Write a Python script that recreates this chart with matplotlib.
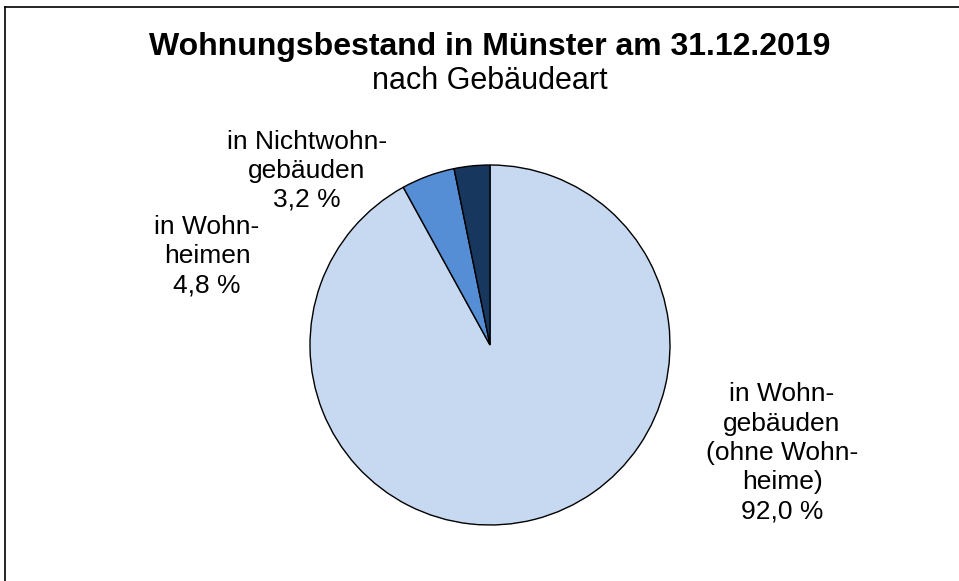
import matplotlib
matplotlib.use("Agg")
import matplotlib.pyplot as plt
from matplotlib.lines import Line2D

plt.rcParams['font.family'] = ['Liberation Sans', 'DejaVu Sans']

title = "Wohnungsbestand in Münster am 31.12.2019"
subtitle = "nach Gebäudeart"
categories = ["in Wohn-\ngebäuden\n(ohne Wohn-\nheime)", "in Wohn-\nheimen", "in Nichtwohn-\ngebäuden"]
values = [92.0, 4.8, 3.2]
colors = ["#C6D9F1", "#558ED5", "#17375E"]

W, H = 959, 581
fig = plt.figure(figsize=(W / 100, H / 100), dpi=100)
fig.patch.set_facecolor("white")

# pie axes: center (490,345) px, radius 180 px
cx, cy, r = 490, 345, 180
ax = fig.add_axes([(cx - r) / W, (H - cy - r) / H, 2 * r / W, 2 * r / H])
ax.pie(values, colors=colors, startangle=90, counterclock=False, radius=1,
       wedgeprops=dict(edgecolor="black", linewidth=1.0))
ax.set_xlim(-1, 1)
ax.set_ylim(-1, 1)
ax.set_aspect("equal")
ax.axis("off")

def fmt(v):
    return f"{v:.1f}".replace(".", ",") + " %"

# (center x, baseline of last line) in px
label_pos = [(782, 518), (207, 292), (307, 207)]
for cat, v, (x, y) in zip(categories, values, label_pos):
    fig.text(x / W, 1 - y / H, cat + "\n" + fmt(v), ha="center", va="baseline",
             fontsize=19, linespacing=1.27, color="black", multialignment="center")

fig.text(490 / W, 1 - 55 / H, title, ha="center", va="baseline",
         fontsize=23, fontweight="bold")
fig.text(490 / W, 1 - 89 / H, subtitle, ha="center", va="baseline", fontsize=22)

# outer frame (top and left visible)
fig.add_artist(Line2D([5 / W, 5 / W], [0, 1 - 7 / H], transform=fig.transFigure,
                      color="black", linewidth=1.2))
fig.add_artist(Line2D([5 / W, 1], [1 - 7 / H, 1 - 7 / H], transform=fig.transFigure,
                      color="black", linewidth=1.2))

fig.savefig("out.png", dpi=100, facecolor="white")
